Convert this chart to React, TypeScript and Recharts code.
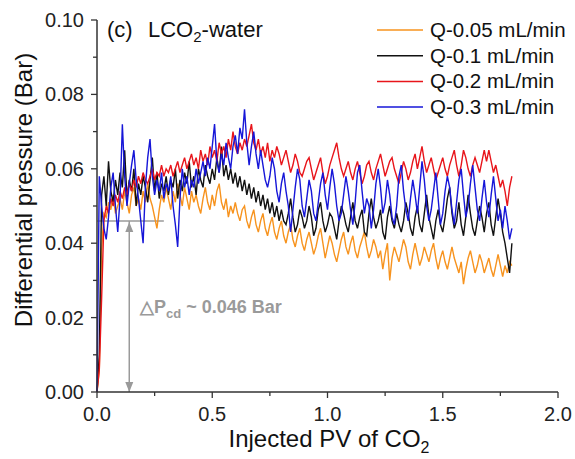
import React from 'react'
import { LineChart, Line, XAxis, YAxis, ReferenceLine } from 'recharts'

// injected pore volumes (x)
const pv = [
  0, 0.01, 0.02, 0.03, 0.04, 0.05, 0.06, 0.07, 0.08, 0.09,
  0.1, 0.11, 0.12, 0.13, 0.14, 0.15, 0.16, 0.17, 0.18, 0.19,
  0.2, 0.21, 0.22, 0.23, 0.24, 0.25, 0.26, 0.27, 0.28, 0.29,
  0.3, 0.31, 0.32, 0.33, 0.34, 0.35, 0.36, 0.37, 0.38, 0.39,
  0.4, 0.41, 0.42, 0.43, 0.44, 0.45, 0.46, 0.47, 0.48, 0.49,
  0.5, 0.51, 0.52, 0.53, 0.54, 0.55, 0.56, 0.57, 0.58, 0.59,
  0.6, 0.61, 0.62, 0.63, 0.64, 0.65, 0.66, 0.67, 0.68, 0.69,
  0.7, 0.71, 0.72, 0.73, 0.74, 0.75, 0.76, 0.77, 0.78, 0.79,
  0.8, 0.81, 0.82, 0.83, 0.84, 0.85, 0.86, 0.87, 0.88, 0.89,
  0.9, 0.91, 0.92, 0.93, 0.94, 0.95, 0.96, 0.97, 0.98, 0.99,
  1.0, 1.01, 1.02, 1.03, 1.04, 1.05, 1.06, 1.07, 1.08, 1.09,
  1.1, 1.11, 1.12, 1.13, 1.14, 1.15, 1.16, 1.17, 1.18, 1.19,
  1.2, 1.21, 1.22, 1.23, 1.24, 1.25, 1.26, 1.27, 1.28, 1.29,
  1.3, 1.31, 1.32, 1.33, 1.34, 1.35, 1.36, 1.37, 1.38, 1.39,
  1.4, 1.41, 1.42, 1.43, 1.44, 1.45, 1.46, 1.47, 1.48, 1.49,
  1.5, 1.51, 1.52, 1.53, 1.54, 1.55, 1.56, 1.57, 1.58, 1.59,
  1.6, 1.61, 1.62, 1.63, 1.64, 1.65, 1.66, 1.67, 1.68, 1.69,
  1.7, 1.71, 1.72, 1.73, 1.74, 1.75, 1.76, 1.77, 1.78, 1.79,
  1.8,
]

// differential pressure (Bar), one array per flow rate
const q005 = [
  0, 0.006, 0.038, 0.048, 0.047, 0.051, 0.049, 0.053, 0.048, 0.050,
  0.052, 0.049, 0.054, 0.051, 0.048, 0.053, 0.055, 0.050, 0.052, 0.049,
  0.054, 0.051, 0.056, 0.052, 0.050, 0.047, 0.044, 0.049, 0.053, 0.051,
  0.055, 0.052, 0.049, 0.054, 0.051, 0.056, 0.053, 0.050, 0.055, 0.052,
  0.049, 0.054, 0.051, 0.053, 0.050, 0.048, 0.052, 0.055, 0.051, 0.049,
  0.053, 0.050, 0.054, 0.056, 0.051, 0.049, 0.052, 0.047, 0.050, 0.048,
  0.051, 0.048, 0.046, 0.049, 0.050, 0.046, 0.044, 0.047, 0.049, 0.045,
  0.043, 0.046, 0.048, 0.044, 0.042, 0.045, 0.047, 0.043, 0.041, 0.044,
  0.046, 0.042, 0.040, 0.043, 0.045, 0.041, 0.039, 0.042, 0.044, 0.040,
  0.038, 0.041, 0.043, 0.040, 0.037, 0.039, 0.042, 0.044, 0.040, 0.036,
  0.039, 0.042, 0.040, 0.037, 0.035, 0.038, 0.041, 0.043, 0.039, 0.037,
  0.040, 0.042, 0.038, 0.036, 0.039, 0.041, 0.043, 0.039, 0.036, 0.038,
  0.041, 0.039, 0.036, 0.038, 0.033, 0.037, 0.040, 0.030, 0.036, 0.039,
  0.037, 0.035, 0.038, 0.041, 0.039, 0.035, 0.033, 0.037, 0.040, 0.037,
  0.034, 0.036, 0.039, 0.037, 0.035, 0.038, 0.040, 0.036, 0.033, 0.036,
  0.038, 0.035, 0.033, 0.036, 0.039, 0.036, 0.034, 0.032, 0.035, 0.029,
  0.033, 0.036, 0.038, 0.035, 0.032, 0.034, 0.037, 0.035, 0.032, 0.034,
  0.036, 0.033, 0.031, 0.034, 0.037, 0.034, 0.031, 0.034, 0.032, 0.035,
  0.034,
]

const q01 = [
  0, 0.010, 0.053, 0.058, 0.050, 0.062, 0.054, 0.051, 0.057, 0.053,
  0.059, 0.055, 0.065, 0.052, 0.057, 0.054, 0.060, 0.050, 0.056, 0.053,
  0.058, 0.055, 0.051, 0.057, 0.063, 0.054, 0.059, 0.052, 0.056, 0.054,
  0.058, 0.053, 0.057, 0.055, 0.060, 0.052, 0.057, 0.054, 0.059, 0.056,
  0.062, 0.055, 0.058, 0.053, 0.060, 0.057, 0.055, 0.061, 0.058, 0.056,
  0.060, 0.057, 0.063, 0.059, 0.066, 0.058, 0.061, 0.057, 0.060, 0.056,
  0.059, 0.055, 0.058, 0.054, 0.057, 0.053, 0.056, 0.052, 0.055, 0.051,
  0.054, 0.050, 0.053, 0.049, 0.052, 0.048, 0.051, 0.047, 0.050, 0.046,
  0.049, 0.046, 0.045, 0.048, 0.052, 0.047, 0.043, 0.045, 0.049, 0.047,
  0.044, 0.046, 0.050, 0.047, 0.042, 0.044, 0.049, 0.051, 0.046, 0.043,
  0.045, 0.048, 0.047, 0.044, 0.041, 0.046, 0.050, 0.048, 0.045, 0.043,
  0.047, 0.051, 0.046, 0.044, 0.047, 0.049, 0.043, 0.042, 0.048, 0.052,
  0.047, 0.044, 0.046, 0.049, 0.043, 0.041, 0.047, 0.050, 0.046, 0.044,
  0.048, 0.045, 0.043, 0.046, 0.051, 0.048, 0.044, 0.042, 0.047, 0.050,
  0.045, 0.043, 0.048, 0.053, 0.047, 0.044, 0.041, 0.046, 0.049, 0.045,
  0.043, 0.047, 0.052, 0.055, 0.048, 0.044, 0.046, 0.051, 0.045, 0.042,
  0.047, 0.053, 0.048, 0.044, 0.042, 0.046, 0.050, 0.047, 0.043, 0.048,
  0.051, 0.045, 0.042, 0.047, 0.052, 0.048, 0.043, 0.040, 0.036, 0.032,
  0.040,
]

const q02 = [
  0, 0.006, 0.025, 0.046, 0.050, 0.048, 0.052, 0.050, 0.053, 0.051,
  0.054, 0.052, 0.055, 0.053, 0.056, 0.054, 0.057, 0.055, 0.058, 0.056,
  0.059, 0.057, 0.056, 0.058, 0.060, 0.057, 0.059, 0.058, 0.061, 0.058,
  0.060, 0.059, 0.061, 0.058, 0.060, 0.062, 0.059, 0.061, 0.063, 0.060,
  0.062, 0.064, 0.061, 0.063, 0.060, 0.065, 0.062, 0.064, 0.061, 0.066,
  0.063, 0.065, 0.062, 0.067, 0.064, 0.066, 0.063, 0.068, 0.065, 0.070,
  0.066, 0.064, 0.067, 0.065, 0.068, 0.066, 0.069, 0.072, 0.067, 0.065,
  0.068, 0.064, 0.066, 0.063, 0.067, 0.062, 0.065, 0.063, 0.066, 0.064,
  0.061, 0.063, 0.065, 0.062, 0.059, 0.061, 0.064, 0.062, 0.059, 0.058,
  0.060, 0.062, 0.063, 0.060, 0.057, 0.059, 0.061, 0.063, 0.059, 0.056,
  0.058, 0.061, 0.063, 0.065, 0.067, 0.063, 0.060, 0.058, 0.060, 0.062,
  0.059, 0.057, 0.060, 0.062, 0.059, 0.056, 0.058, 0.061, 0.062, 0.059,
  0.057, 0.060, 0.062, 0.064, 0.061, 0.058, 0.060, 0.062, 0.063, 0.060,
  0.058, 0.056, 0.059, 0.062, 0.060, 0.057, 0.059, 0.062, 0.064, 0.060,
  0.063, 0.066, 0.062, 0.059, 0.061, 0.063, 0.060, 0.057, 0.059, 0.061,
  0.063, 0.060, 0.058, 0.061, 0.063, 0.065, 0.061, 0.058, 0.061, 0.065,
  0.063, 0.060, 0.058, 0.061, 0.063, 0.061, 0.059, 0.062, 0.065, 0.062,
  0.065, 0.062, 0.059, 0.061, 0.058, 0.055, 0.057, 0.054, 0.050, 0.055,
  0.058,
]

const q03 = [
  0, 0.058, 0.050, 0.044, 0.041, 0.047, 0.055, 0.059, 0.050, 0.043,
  0.052, 0.072, 0.058, 0.050, 0.056, 0.061, 0.065, 0.057, 0.052, 0.046,
  0.040, 0.055, 0.063, 0.068, 0.058, 0.053, 0.057, 0.054, 0.059, 0.052,
  0.056, 0.054, 0.058, 0.050, 0.045, 0.039, 0.052, 0.060, 0.055, 0.058,
  0.053, 0.057, 0.055, 0.060, 0.056, 0.059, 0.062, 0.058, 0.063, 0.060,
  0.066, 0.072, 0.062, 0.059, 0.064, 0.061, 0.067, 0.063, 0.060, 0.066,
  0.069, 0.064, 0.071, 0.068, 0.076, 0.067, 0.061, 0.066, 0.070, 0.064,
  0.060, 0.065, 0.061, 0.057, 0.055, 0.058, 0.063, 0.060, 0.054, 0.051,
  0.056, 0.059, 0.054, 0.050, 0.043, 0.049, 0.055, 0.060, 0.057, 0.050,
  0.047, 0.052, 0.057, 0.054, 0.048, 0.046, 0.051, 0.056, 0.059, 0.053,
  0.049, 0.055, 0.060, 0.056, 0.050, 0.046, 0.048, 0.053, 0.058, 0.054,
  0.049, 0.045, 0.051, 0.059, 0.061, 0.054, 0.048, 0.052, 0.050, 0.044,
  0.049, 0.056, 0.060, 0.055, 0.048, 0.051, 0.057, 0.053, 0.047, 0.045,
  0.050, 0.058, 0.061, 0.054, 0.049, 0.046, 0.052, 0.057, 0.053, 0.048,
  0.055, 0.062, 0.057, 0.050, 0.046, 0.049, 0.054, 0.059, 0.052, 0.045,
  0.048, 0.054, 0.058, 0.055, 0.049, 0.045, 0.051, 0.057, 0.060, 0.053,
  0.047, 0.050, 0.056, 0.061, 0.055, 0.049, 0.046, 0.052, 0.057, 0.051,
  0.047, 0.053, 0.058, 0.052, 0.046, 0.049, 0.044, 0.050, 0.046, 0.041,
  0.044,
]

const seriesKeys = ['q005', 'q01', 'q02', 'q03']
const seriesNames = ['Q-0.05 mL/min', 'Q-0.1 mL/min', 'Q-0.2 mL/min', 'Q-0.3 mL/min']
const seriesColors = ['#F7931E', '#111111', '#E8151B', '#1616D8']

const xTicks = [0, 0.25, 0.5, 0.75, 1, 1.25, 1.5, 1.75, 2]
const yTicks = [0, 0.01, 0.02, 0.03, 0.04, 0.05, 0.06, 0.07, 0.08, 0.09, 0.1]

// dP_cd annotation
const dpcd = 0.046
const dpcdLineEnd = 0.29
const dpcdArrowX = 0.14

const data = pv.map((x, i) => ({ pv: x, q005: q005[i], q01: q01[i], q02: q02[i], q03: q03[i] }))

const FONT = '"Liberation Sans", Arial, sans-serif'
const AXIS = '#333'

function XTick(props: any) {
  const { x, y, payload } = props
  const v = payload.value
  const major = Math.abs(v * 2 - Math.round(v * 2)) < 1e-6
  return (
    <g>
      <line x1={x} y1={y} x2={x} y2={y + (major ? 6 : 4)} stroke={AXIS} strokeWidth={1.3} />
      {major && (
        <text x={x} y={y + 29} textAnchor="middle" fontSize={20} fontFamily={FONT} fill="#222">
          {v.toFixed(1)}
        </text>
      )}
    </g>
  )
}

function YTick(props: any) {
  const { x, y, payload } = props
  const v = payload.value
  const major = Math.abs(v * 50 - Math.round(v * 50)) < 1e-6
  return (
    <g>
      <line x1={x - (major ? 6 : 4)} y1={y} x2={x} y2={y} stroke={AXIS} strokeWidth={1.3} />
      {major && (
        <text x={x - 13} y={y + 7} textAnchor="end" fontSize={20} fontFamily={FONT} fill="#222">
          {v.toFixed(2)}
        </text>
      )}
    </g>
  )
}

function DoubleArrow(props: any) {
  const { x1, y1, x2, y2 } = props
  const top = Math.min(y1, y2)
  const bottom = Math.max(y1, y2)
  const c = '#9a9a9a'
  return (
    <g>
      <line x1={x1} y1={top} x2={x2} y2={bottom} stroke={c} strokeWidth={1.5} />
      <path d={`M${x1},${top + 1} L${x1 - 4},${top + 11} L${x1 + 4},${top + 11} Z`} fill={c} />
      <path d={`M${x1},${bottom} L${x1 - 4},${bottom - 10} L${x1 + 4},${bottom - 10} Z`} fill={c} />
    </g>
  )
}

export default function App() {
  return (
    <div style={{ position: 'absolute', left: 0, top: 0, width: 575, height: 459, background: '#fff' }}>
      <LineChart width={575} height={459} data={data} margin={{ top: 20, right: 17, left: 0, bottom: 0 }}>
        <XAxis
          dataKey="pv"
          type="number"
          domain={[0, 2]}
          ticks={xTicks}
          interval={0}
          height={67}
          tickSize={0}
          tickMargin={0}
          tick={<XTick />}
          axisLine={{ stroke: AXIS, strokeWidth: 1.5 }}
        />
        <YAxis
          type="number"
          domain={[0, 0.1]}
          ticks={yTicks}
          interval={0}
          width={97}
          tickSize={0}
          tickMargin={0}
          tick={<YTick />}
          axisLine={{ stroke: AXIS, strokeWidth: 1.5 }}
        />
        <ReferenceLine
          segment={[{ x: 0, y: dpcd }, { x: dpcdLineEnd, y: dpcd }]}
          stroke="#9a9a9a"
          strokeWidth={1.5}
        />
        <ReferenceLine
          segment={[{ x: dpcdArrowX, y: dpcd }, { x: dpcdArrowX, y: 0 }]}
          shape={<DoubleArrow />}
        />
        {seriesKeys.map((k, i) => (
          <Line
            key={k}
            dataKey={k}
            name={seriesNames[i]}
            stroke={seriesColors[i]}
            strokeWidth={1.4}
            dot={false}
            type="linear"
            isAnimationActive={false}
          />
        ))}
      </LineChart>
      <svg
        width={575}
        height={459}
        style={{ position: 'absolute', left: 0, top: 0, pointerEvents: 'none' }}
        fontFamily={FONT}
      >
        <text x={107} y={37} fontSize={22} fill="#111">(c)</text>
        <text x={148} y={37} fontSize={22} fill="#111">
          LCO<tspan fontSize={15} dy={5}>2</tspan>
          <tspan dy={-5}>-water</tspan>
        </text>

        {seriesNames.map((n, i) => (
          <g key={n}>
            <line x1={377} x2={423} y1={30 + i * 25.7} y2={30 + i * 25.7} stroke={seriesColors[i]} strokeWidth={1.5} />
            <text x={430} y={37 + i * 25.7} fontSize={20.5} fill="#111">{n}</text>
          </g>
        ))}

        <text x={140} y={313} fontSize={18} fontWeight="bold" fill="#9a9a9a">
          △P<tspan fontSize={13} dy={5}>cd</tspan>
          <tspan dy={-5}> ~ 0.046 Bar</tspan>
        </text>

        <text x={329} y={447} fontSize={24} textAnchor="middle" fill="#111">
          Injected PV of CO<tspan fontSize={16} dy={6}>2</tspan>
        </text>
        <text
          x={32}
          y={190}
          fontSize={24}
          textAnchor="middle"
          fill="#111"
          transform="rotate(-90, 32, 190)"
        >
          Differential pressure (Bar)
        </text>
      </svg>
    </div>
  )
}
